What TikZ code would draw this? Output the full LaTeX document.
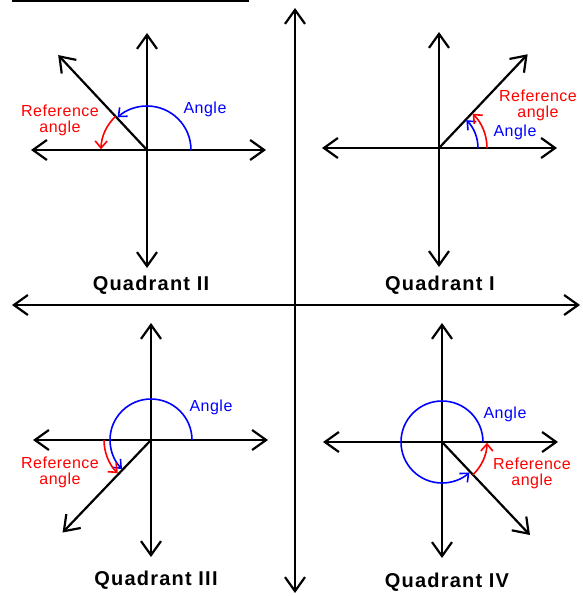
\documentclass[tikz,border=0pt]{standalone}
\usepackage{fontspec}
\setmainfont{Liberation Sans}
\usetikzlibrary{arrows.meta,calc}
\tikzset{
  axis/.style={line width=2.2pt,{Straight Barb[length=14pt,width=20pt,line width=2.2pt]}-{Straight Barb[length=14pt,width=20pt,line width=2.2pt]}},
  ray/.style={line width=2.2pt,-{Straight Barb[length=14pt,width=20pt,line width=2.2pt]}},
  angarc/.style={line width=1.6pt,blue,-{Straight Barb[length=7pt,width=12pt,line width=1.6pt]}},
  refarc/.style={line width=1.6pt,red,-{Straight Barb[length=7pt,width=12pt,line width=1.6pt]}},
  lbl/.style={inner sep=0pt,align=center,font=\addfontfeature{LetterSpace=3}\fontsize{16pt}{16pt}\selectfont},
  quad/.style={inner sep=0pt,font=\addfontfeature{LetterSpace=6}\fontsize{20pt}{22pt}\selectfont\bfseries}
}
\begin{document}
\begin{tikzpicture}[x=1pt,y=-1pt]
\useasboundingbox (0,0) rectangle (582,596);
% top partial line
\coordinate (tl) at (12,1);
\coordinate (tr) at (249,1);
\draw[line width=2pt] (tl) -- (tr);
% main axes
\coordinate (ml) at (12,305);
\coordinate (mr) at (580,305);
\coordinate (mt) at (295,8);
\coordinate (mb) at (295,593);
\draw[axis] (ml) -- (mr);
\draw[axis] (mt) -- (mb);

% ---------- Quadrant II ----------
\coordinate (c2) at (147,150);
\coordinate (c2l) at (31,150);
\coordinate (c2r) at (266,150);
\coordinate (c2t) at (147,33);
\coordinate (c2b) at (147,268);
\coordinate (c2ray) at ($(c2)+(-133.1:130)$);
\draw[axis] (c2l) -- (c2r);
\draw[axis] (c2t) -- (c2b);
\draw[ray] (c2) -- (c2ray);
\draw[angarc] ($(c2)+(0:44)$) arc[start angle=0,end angle=-132,radius=44];
\draw[refarc] ($(c2)+(-133.1:46)$) arc[start angle=-133.1,end angle=-179,radius=46];
\node[lbl,red] (r2) at (60,120.5) {Reference\\angle};
\node[lbl,blue] (a2) at (205,109) {Angle};
\node[quad] (q2) at (151,285) {Quadrant II};

% ---------- Quadrant I ----------
\coordinate (c1) at (439,148);
\coordinate (c1l) at (322,148);
\coordinate (c1r) at (557,148);
\coordinate (c1t) at (439,32);
\coordinate (c1b) at (439,267);
\coordinate (c1ray) at ($(c1)+(-46.6:129)$);
\draw[axis] (c1l) -- (c1r);
\draw[axis] (c1t) -- (c1b);
\draw[ray] (c1) -- (c1ray);
\draw[angarc] ($(c1)+(0:39)$) arc[start angle=0,end angle=-45.5,radius=39];
\draw[refarc] ($(c1)+(0:48)$) arc[start angle=0,end angle=-45.5,radius=48];
\node[lbl,red] (r1) at (538,105) {Reference\\angle};
\node[lbl,blue] (a1) at (515,132) {Angle};
\node[quad] (q1) at (440,285) {Quadrant I};

% ---------- Quadrant III ----------
\coordinate (c3) at (151,440);
\coordinate (c3l) at (33,440);
\coordinate (c3r) at (268,440);
\coordinate (c3t) at (151,323);
\coordinate (c3b) at (151,557);
\coordinate (c3ray) at ($(c3)+(-226.3:128)$);
\draw[axis] (c3l) -- (c3r);
\draw[axis] (c3t) -- (c3b);
\draw[ray] (c3) -- (c3ray);
\draw[angarc] ($(c3)+(0:41)$) arc[start angle=0,end angle=-225,radius=41];
\draw[refarc] ($(c3)+(180:47)$) arc[start angle=-180,end angle=-225,radius=47];
\node[lbl,red] (r3) at (60,472) {Reference\\angle};
\node[lbl,blue] (a3) at (211,407) {Angle};
\node[quad] (q3) at (156,580) {Quadrant III};

% ---------- Quadrant IV ----------
\coordinate (c4) at (442,442);
\coordinate (c4l) at (323,442);
\coordinate (c4r) at (558,442);
\coordinate (c4t) at (442,323);
\coordinate (c4b) at (442,558);
\coordinate (c4ray) at ($(c4)+(-313.4:128)$);
\draw[axis] (c4l) -- (c4r);
\draw[axis] (c4t) -- (c4b);
\draw[ray] (c4) -- (c4ray);
\draw[angarc] ($(c4)+(0:41)$) arc[start angle=0,end angle=-312,radius=41];
\draw[refarc] ($(c4)+(-313.4:45)$) arc[start angle=-313.4,end angle=-359,radius=45];
\node[lbl,blue] (a4) at (505,414) {Angle};
\node[lbl,red] (r4) at (532,473) {Reference\\angle};
\node[quad] (q4) at (447,582) {Quadrant IV};
\end{tikzpicture}
\end{document}
